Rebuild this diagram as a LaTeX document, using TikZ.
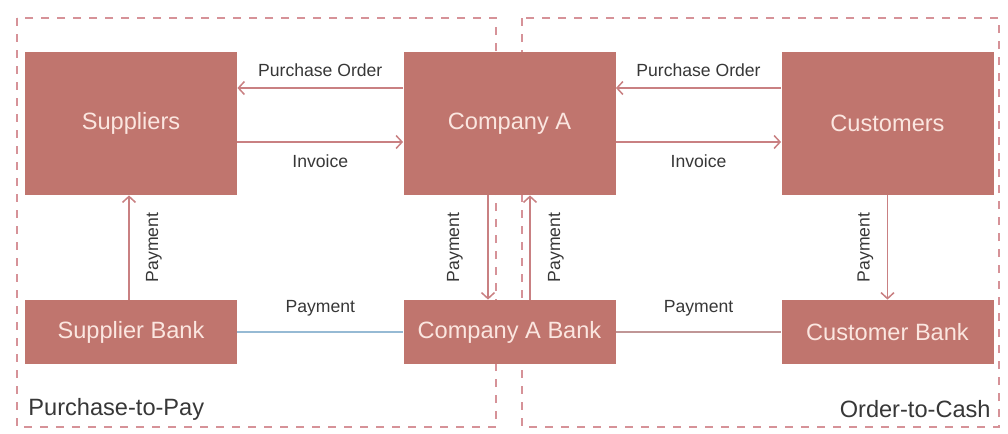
\documentclass[tikz,border=0pt]{standalone}
\usepackage{fontspec}
\setmainfont{Liberation Sans}
\usetikzlibrary{calc}
\usetikzlibrary{arrows.meta}

\definecolor{boxred}{RGB}{192,117,110}
\definecolor{boxtext}{RGB}{251,230,224}
\definecolor{flowred}{RGB}{201,128,130}
\definecolor{dashpink}{RGB}{214,146,152}
\definecolor{labelgray}{RGB}{55,55,55}
\definecolor{paleblue}{RGB}{150,186,212}
\definecolor{palerose}{RGB}{192,150,150}

\begin{document}
\begin{tikzpicture}[x=0.5pt, y=-0.5pt,
  party/.style={fill=boxred, text=boxtext, minimum width=106pt, minimum height=71.5pt,
    inner sep=0pt, font=\fontsize{11.8}{14}\selectfont},
  bank/.style={party, minimum height=32pt},
  flow/.style={draw=flowred, line width=0.75pt, -{Straight Barb[length=3pt,width=6.5pt]}},
  tag/.style={text=labelgray, font=\fontsize{8.8}{10}\selectfont},
  region/.style={draw=dashpink, line width=1pt, dash pattern=on 4pt off 4pt},
  title/.style={text=labelgray, inner sep=0pt, font=\fontsize{11.8}{14}\selectfont}]

\useasboundingbox (0,0) rectangle (1008,434);

\draw[region] (17,18) rectangle (496,427);
\draw[region] (522,18) rectangle (999,427);

\node[party] (suppliers) at (131,123.5) {Suppliers};
\node[party] (compA) at (509.5,123.5) {Company A};
\node[party] (customers) at (887.5,123.5) {Customers};
\node[bank] (supbank) at (131,332) {Supplier Bank};
\node[bank] (compAbank) at (509.5,332) {Company A Bank};
\node[bank] (custbank) at (887.5,332) {Customer Bank};

\draw[flow] ($(compA.west)+(0,-35.5)$) -- node[tag, above=2pt] {Purchase Order} ($(suppliers.east)+(0,-35.5)$);
\draw[flow] ($(suppliers.east)+(0,18.5)$) -- node[tag, below=2.5pt] {Invoice} ($(compA.west)+(0,18.5)$);
\draw[flow] ($(customers.west)+(0,-35.5)$) -- node[tag, above=2pt] {Purchase Order} ($(compA.east)+(0,-35.5)$);
\draw[flow] ($(compA.east)+(0,18.5)$) -- node[tag, below=2.5pt] {Invoice} ($(customers.west)+(0,18.5)$);

\draw[flow] ($(supbank.north)+(-2,0)$) -- node[tag, xshift=12.5pt, rotate=90] {Payment} ($(suppliers.south)+(-2,0)$);
\draw[flow] ($(compA.south)+(-21.5,0)$) -- node[tag, xshift=-16.5pt, rotate=90] {Payment} ($(compAbank.north)+(-21.5,0)$);
\draw[flow] ($(compAbank.north)+(20.5,0)$) -- node[tag, xshift=13pt, rotate=90] {Payment} ($(compA.south)+(20.5,0)$);
\draw[flow] (customers.south) -- node[tag, xshift=-11pt, rotate=90] {Payment} (custbank.north);

\draw[paleblue, line width=0.75pt] (supbank.east) -- node[tag, above=4pt] {Payment} (compAbank.west);
\draw[palerose, line width=0.75pt] (compAbank.east) -- node[tag, above=4pt] {Payment} (custbank.west);

\node[title, anchor=west] (p2p) at (28,409) {Purchase-to-Pay};
\node[title, anchor=east] (o2c) at (991,409) {Order-to-Cash};

\end{tikzpicture}
\end{document}
